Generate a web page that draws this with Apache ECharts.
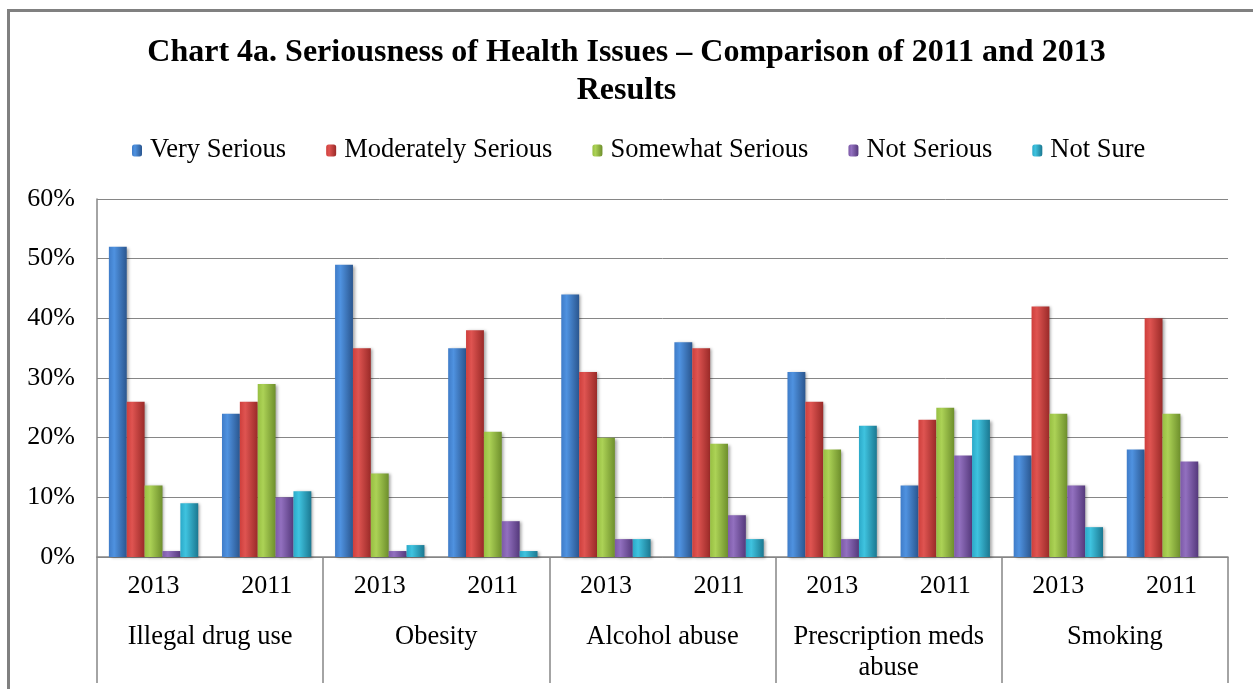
<!DOCTYPE html>
<html>
<head>
<meta charset="utf-8">
<script src="https://cdn.jsdelivr.net/npm/echarts@6/dist/echarts.min.js"></script>
<style>
html,body{margin:0;padding:0;background:#fff;}
#chart{width:1253px;height:689px;}
</style>
</head>
<body>
<div id="chart"></div>
<script>
const years = ['2013','2011','2013','2011','2013','2011','2013','2011','2013','2011'];
const issues = ['Illegal drug use','Obesity','Alcohol abuse','Prescription meds\nabuse','Smoking'];
const seriesNames = ['Very Serious','Moderately Serious','Somewhat Serious','Not Serious','Not Sure'];
const verySerious       = [52, 24, 49, 35, 44, 36, 31, 12, 17, 18];
const moderatelySerious = [26, 26, 35, 38, 31, 35, 26, 23, 42, 40];
const somewhatSerious   = [12, 29, 14, 21, 20, 19, 18, 25, 24, 24];
const notSerious        = [1, 10, 1, 6, 3, 7, 3, 17, 12, 16];
const notSure           = [9, 11, 2, 1, 3, 3, 22, 23, 5, 0];
const yTicks = [0, 10, 20, 30, 40, 50, 60];

const palettes = [
  ['#3f7cc8', '#4f92e0', '#2a568f'],
  ['#cf3f3c', '#df5451', '#9a2a28'],
  ['#97bf42', '#acd256', '#6e8f2c'],
  ['#7d5aa8', '#9270bf', '#55397c'],
  ['#2ba9c8', '#3fc3df', '#1b7891']
];
function grad(p){
  return new echarts.graphic.LinearGradient(0,0,1,0,[
    {offset:0,color:p[0]},{offset:0.3,color:p[1]},{offset:1,color:p[2]}
  ]);
}
const dataSets = [verySerious, moderatelySerious, somewhatSerious, notSerious, notSure];
const serif = '"Liberation Serif","Times New Roman",serif';

const chart = echarts.init(document.getElementById('chart'));
chart.setOption({
  backgroundColor:'#fff',
  animation:false,
  title:{
    text:'Chart 4a. Seriousness of Health Issues – Comparison of 2011 and 2013\nResults',
    left:'center', top:29,
    textStyle:{fontFamily:serif,fontWeight:'bold',fontSize:32,color:'#000',lineHeight:38}
  },
  legend:{
    top:132, left:127,
    itemWidth:10, itemHeight:12, itemGap:40,
    textStyle:{fontFamily:serif,fontSize:26.5,color:'#000',padding:[0,0,0,3]},
    data:seriesNames.map((n,i)=>({name:n,itemStyle:{color:grad(palettes[i])}}))
  },
  grid:{left:97,right:25,top:199,bottom:132},
  xAxis:[{
    type:'category', data:years,
    axisLine:{lineStyle:{color:'#868686',width:1.5}},
    axisTick:{show:false},
    axisLabel:{fontFamily:serif,fontSize:26,color:'#000',margin:16,interval:0}
  },{
    type:'category', data:issues, position:'bottom',
    axisLine:{show:false},
    axisTick:{show:true,length:126,interval:0,lineStyle:{color:'#868686',width:1.5}},
    axisLabel:{fontFamily:serif,fontSize:26.5,color:'#000',margin:65,lineHeight:31,interval:0}
  }],
  yAxis:{
    type:'value', min:0, max:60, interval:10,
    axisLine:{show:true,lineStyle:{color:'#868686',width:1.5}},
    axisTick:{show:false},
    splitLine:{lineStyle:{color:'#868686',width:1}},
    axisLabel:{fontFamily:serif,fontSize:26,color:'#000',margin:22,
      formatter:function(v){return yTicks.indexOf(v)>=0 ? v+'%' : '';}}
  },
  graphic:[
    {type:'line',shape:{x1:8,y1:10.5,x2:1253,y2:10.5},style:{stroke:'#808080',lineWidth:3},z:100},
    {type:'line',shape:{x1:8.5,y1:9,x2:8.5,y2:689},style:{stroke:'#808080',lineWidth:3},z:100}
  ],
  series:dataSets.map((d,i)=>({
    name:seriesNames[i], type:'bar', xAxisIndex:0,
    data:d,
    barGap:'0%', barCategoryGap:'21%',
    itemStyle:{color:grad(palettes[i]),shadowBlur:3,shadowColor:'rgba(0,0,0,0.35)',shadowOffsetX:2,shadowOffsetY:1}
  }))
});
</script>
</body>
</html>
